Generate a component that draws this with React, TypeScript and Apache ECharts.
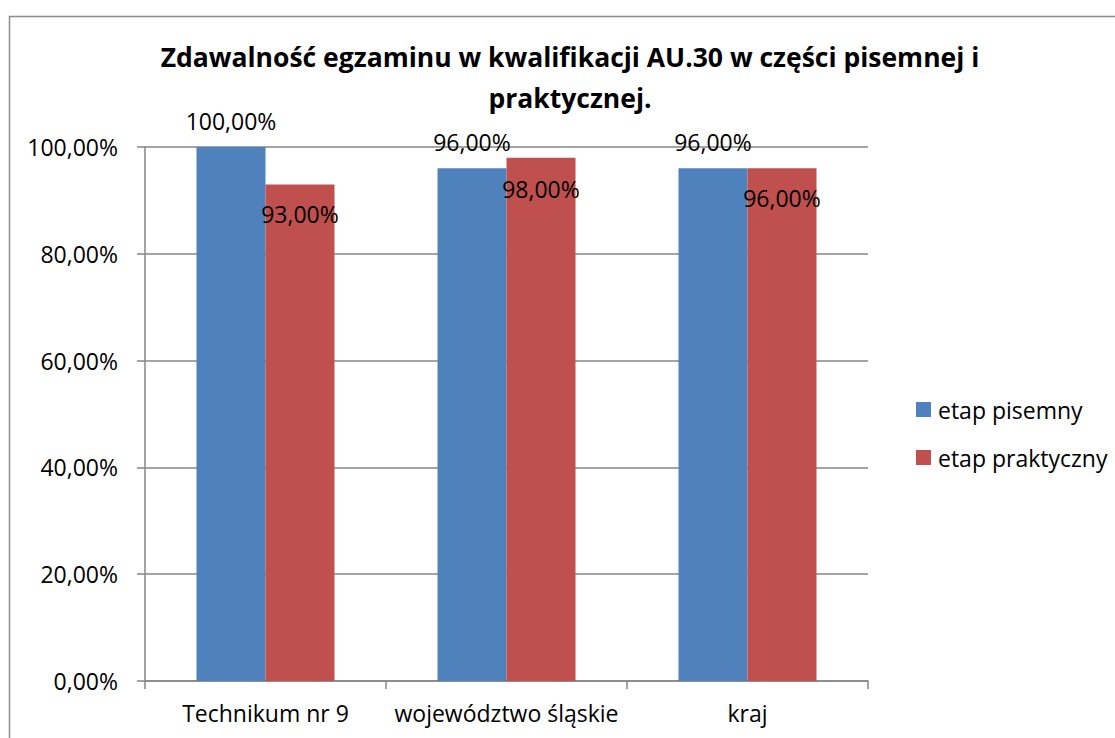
import React, { useEffect, useRef } from "react";
import * as echarts from "echarts";

const categories = ["Technikum nr 9", "województwo śląskie", "kraj"];
const seriesNames = ["etap pisemny", "etap praktyczny"];
const pisemny = [1.0, 0.96, 0.96];
const praktyczny = [0.93, 0.98, 0.96];
const pisemnyLabelOffset = [-26, -26, -26];
const praktycznyLabelOffset = [30, 31, 30];
const yTicks = [0, 0.2, 0.4, 0.6, 0.8, 1.0];

const FONT = "'Open Sans', 'Noto Sans', sans-serif";
const FS = 23;
const fmt = (v: number) => (v * 100).toFixed(2).replace(".", ",") + "%";

export default function App() {
  const ref = useRef<HTMLDivElement>(null);
  useEffect(() => {
    document.body.style.margin = "0";
    const chart = echarts.init(ref.current!, undefined, { renderer: "svg" });
    const mk = (vals: number[], offs: number[]) =>
      vals.map((v, i) => ({
        value: v,
        label: { offset: [0, offs[i]] },
      }));
    const labelCfg = {
      show: true,
      position: "top",
      distance: 0,
      verticalAlign: "middle",
      fontFamily: FONT,
      fontSize: FS,
      color: "#000",
      formatter: (p: any) => fmt(p.value),
    };
    chart.setOption({
      animation: false,
      textStyle: { fontFamily: FONT },
      graphic: [
        {
          type: "rect",
          shape: { x: 9.5, y: 16.5, width: 1300, height: 900 },
          style: { fill: "none", stroke: "#8c8c8c", lineWidth: 1.5 },
          silent: true,
        },
      ],
      title: {
        text: "Zdawalność egzaminu w kwalifikacji AU.30 w części pisemnej i\npraktycznej.",
        left: 570,
        textAlign: "center",
        top: 36,
        padding: 0,
        textStyle: {
          fontFamily: FONT,
          fontWeight: "bold",
          fontSize: 26.5,
          lineHeight: 41,
          color: "#000",
        },
      },
      legend: {
        orient: "vertical",
        left: 911,
        top: 393,
        padding: 5,
        itemWidth: 15,
        itemHeight: 15,
        itemGap: 25,
        icon: "rect",
        textStyle: { fontFamily: FONT, fontSize: FS, color: "#000", padding: [0, 0, 0, 2] },
        data: seriesNames,
      },
      grid: { left: 145, top: 147, right: 247, bottom: 57, containLabel: false },
      xAxis: {
        type: "category",
        data: categories,
        axisLine: { lineStyle: { color: "#868686", width: 1.5 } },
        axisTick: { show: true, length: 8, lineStyle: { color: "#868686", width: 1.5 } },
        axisLabel: {
          fontFamily: FONT,
          fontSize: FS,
          color: "#000",
          margin: 20,
          interval: 0,
          hideOverlap: false,
        },
      },
      yAxis: {
        type: "value",
        min: yTicks[0],
        max: yTicks[yTicks.length - 1],
        interval: 0.2,
        axisLine: { show: true, lineStyle: { color: "#868686", width: 1.5 } },
        axisTick: { show: true, length: 8, lineStyle: { color: "#868686", width: 1.5 } },
        splitLine: { lineStyle: { color: "#868686", width: 1.5 } },
        axisLabel: { fontFamily: FONT, fontSize: FS, color: "#000", margin: 27, formatter: fmt },
      },
      series: [
        {
          name: seriesNames[0],
          type: "bar",
          barWidth: 69,
          barGap: "0%",
          itemStyle: { color: "#4F81BD" },
          label: labelCfg,
          data: mk(pisemny, pisemnyLabelOffset),
        },
        {
          name: seriesNames[1],
          type: "bar",
          barWidth: 69,
          barGap: "0%",
          itemStyle: { color: "#C0504D" },
          label: labelCfg,
          data: mk(praktyczny, praktycznyLabelOffset),
        },
      ],
    });
    return () => chart.dispose();
  }, []);
  return <div ref={ref} style={{ width: 1115, height: 738 }} />;
}
